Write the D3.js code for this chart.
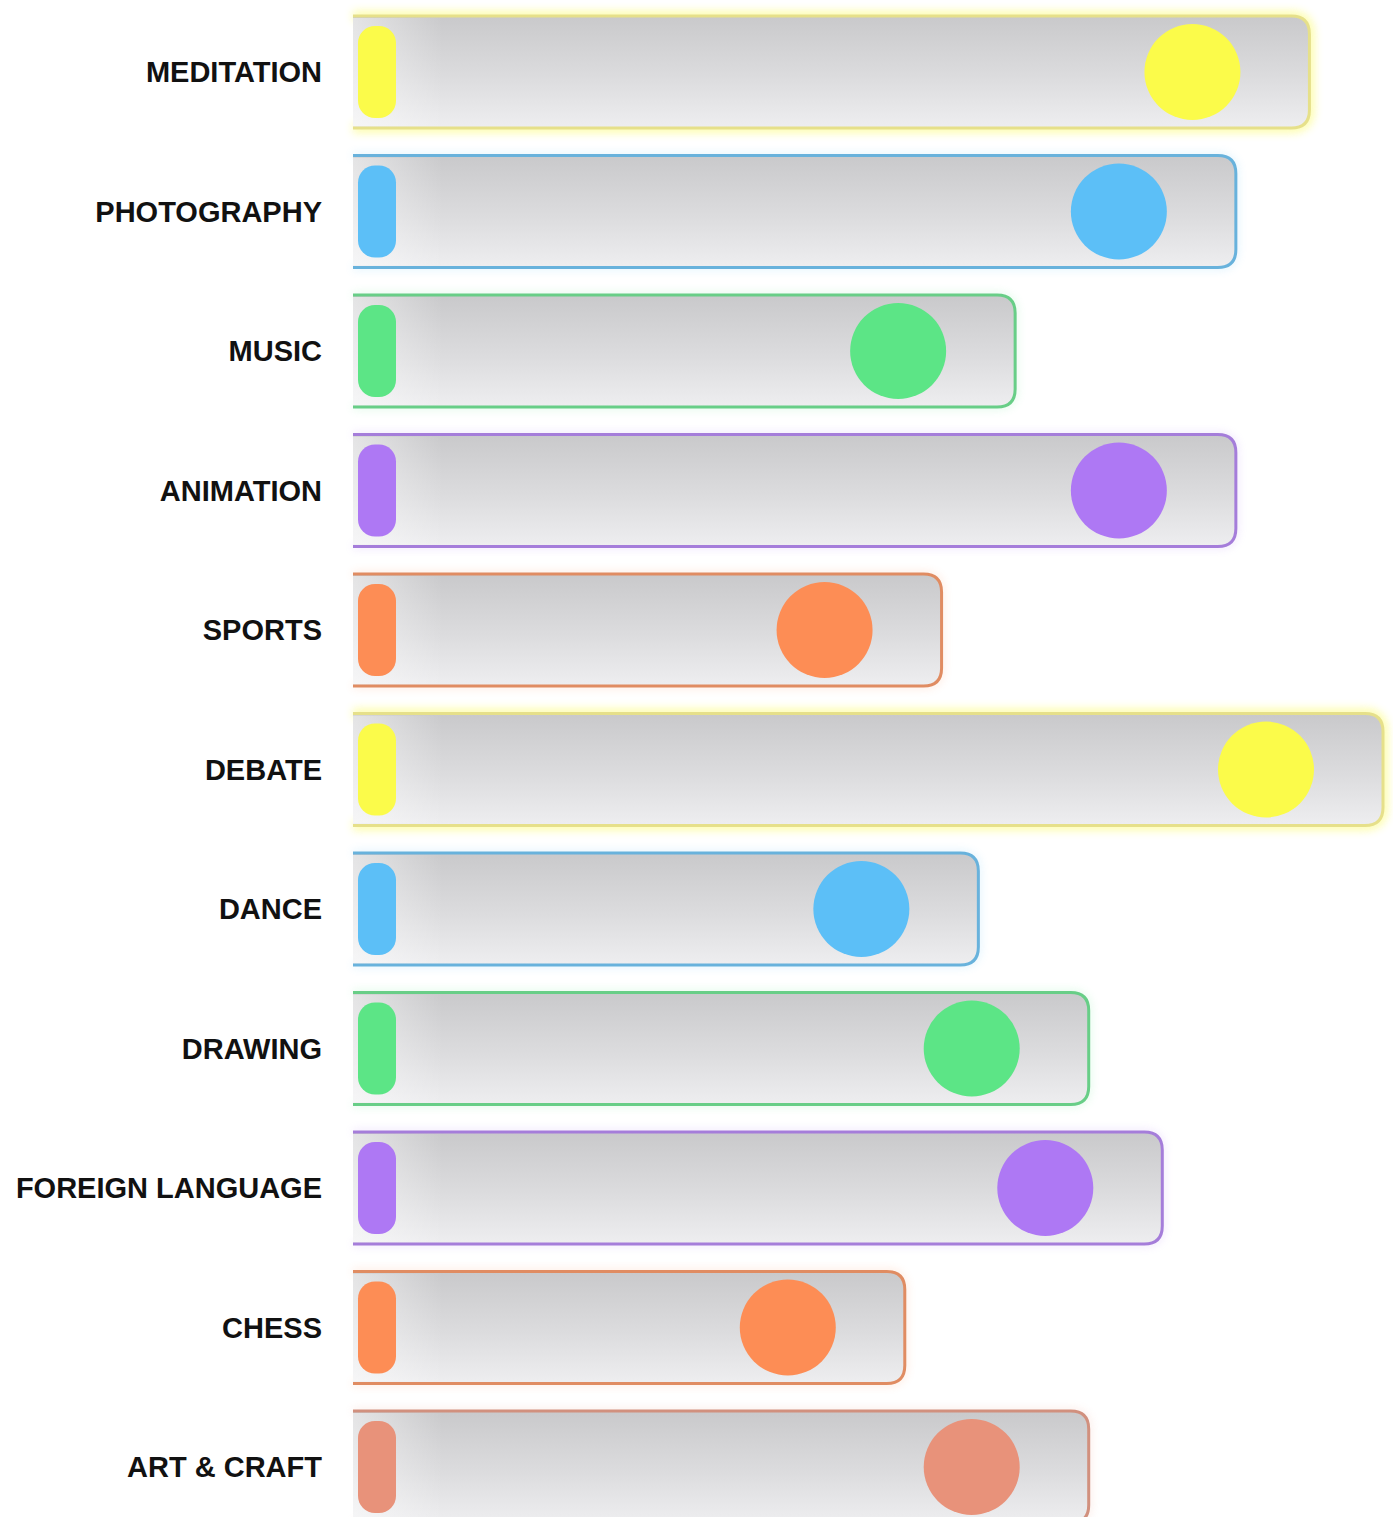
<!DOCTYPE html>
<html><head><meta charset="utf-8">
<script src="https://cdn.jsdelivr.net/npm/d3@7"></script>
<style>html,body{margin:0;padding:0;background:#fff;}svg{display:block;}</style>
</head><body>
<script>
const categories = ["MEDITATION","PHOTOGRAPHY","MUSIC","ANIMATION","SPORTS","DEBATE","DANCE","DRAWING","FOREIGN LANGUAGE","CHESS","ART & CRAFT"];
const values = [26,24,18,24,16,28,17,20,22,15,20];
const colors = ["#fbfb4a","#5cbff7","#5ce586","#ae78f4","#fd8d55","#fbfb4a","#5cbff7","#5ce586","#ae78f4","#fd8d55","#e8927a"];

const W = 1393, H = 1517;
const svg = d3.select("body").append("svg").attr("width", W).attr("height", H);
const x = d3.scaleLinear().domain([0, 28]).range([353, 1383]);
const y = d3.scalePoint().domain(categories).range([72, 1467]);
const barH = 112, r = 48, circleOffset = 117;

const defs = svg.append("defs");
const g = defs.append("linearGradient").attr("id","barfill").attr("x1",0).attr("y1",0).attr("x2",0).attr("y2",1);
g.append("stop").attr("offset","0%").attr("stop-color","#c9c9cb");
g.append("stop").attr("offset","55%").attr("stop-color","#dcdcde");
g.append("stop").attr("offset","100%").attr("stop-color","#eeeef0");
const gl = defs.append("linearGradient").attr("id","leftfade").attr("x1",0).attr("y1",0).attr("x2",1).attr("y2",0);
gl.append("stop").attr("offset","0%").attr("stop-color","#ffffff").attr("stop-opacity",0.5);
gl.append("stop").attr("offset","100%").attr("stop-color","#ffffff").attr("stop-opacity",0);
const f = defs.append("filter").attr("id","glow").attr("x","-5%").attr("y","-30%").attr("width","110%").attr("height","160%");
f.append("feGaussianBlur").attr("stdDeviation",4);

const data = categories.map((c,i)=>({c, v: values[i], col: colors[i]}));
const isYellow = d => d.col === "#fbfb4a";

function barPath(x0, x1, yc, h, rr, closed){
  const t = yc - h/2, b = yc + h/2;
  return `M${x0},${t} H${x1-rr} Q${x1},${t} ${x1},${t+rr} V${b-rr} Q${x1},${b} ${x1-rr},${b} H${x0}` + (closed ? " Z" : "");
}

const rows = svg.selectAll("g.row").data(data).enter().append("g").attr("class","row");

// glow
rows.append("path")
  .attr("d", d => barPath(x(0), x(d.v), y(d.c), barH, 18, false))
  .attr("fill","none").attr("stroke", d => d.col).attr("stroke-width", d => isYellow(d) ? 10 : 5)
  .attr("opacity", d => isYellow(d) ? 0.45 : 0.2)
  .attr("filter","url(#glow)");
// bar fill
rows.append("path")
  .attr("d", d => barPath(x(0), x(d.v), y(d.c), barH, 18, true))
  .attr("fill","url(#barfill)");
rows.append("rect")
  .attr("x", x(0)).attr("y", d => y(d.c)-barH/2+2).attr("width", 90).attr("height", barH-4)
  .attr("fill","url(#leftfade)");
// bar outline (open on the left)
rows.append("path")
  .attr("d", d => barPath(x(0), x(d.v), y(d.c), barH, 18, false))
  .attr("fill","none")
  .attr("stroke", d => isYellow(d) ? "#e6e08a" : d3.interpolateRgb(d.col, "#8a8a8a")(0.25))
  .attr("stroke-width", 3);
// left cap
rows.append("rect")
  .attr("x", x(0)+5).attr("y", d => y(d.c)-46).attr("width", 38).attr("height", 92)
  .attr("rx", 17).attr("ry", 17).attr("fill", d => d.col);
// circle
rows.append("circle")
  .attr("cx", d => x(d.v) - circleOffset).attr("cy", d => y(d.c)).attr("r", r)
  .attr("fill", d => d.col);
// labels
rows.append("text")
  .attr("x", 322).attr("y", d => y(d.c)).attr("dy","0.36em")
  .attr("text-anchor","end")
  .attr("font-family","'Liberation Sans', Arial, sans-serif").attr("font-weight","bold")
  .attr("font-size", 29).attr("fill","#111")
  .text(d => d.c);
</script>
</body></html>
